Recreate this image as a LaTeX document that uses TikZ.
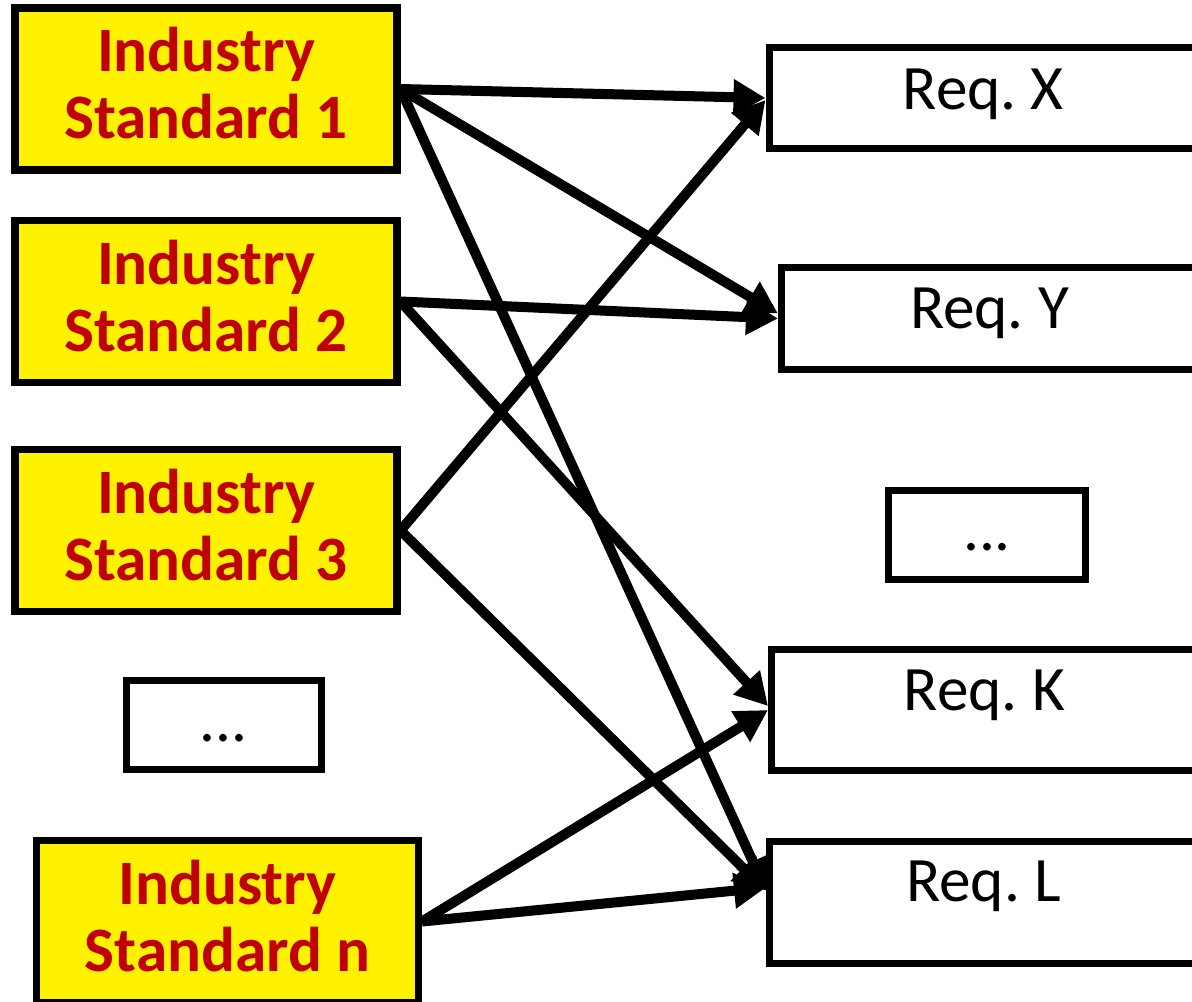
\documentclass[tikz,border=0pt]{standalone}
\usepackage{fontspec}
\setmainfont{Carlito}
\usetikzlibrary{arrows.meta}
\definecolor{stdred}{HTML}{C00000}
\newcommand{\reqname}[1]{Req.~#1}

\begin{document}
\begin{tikzpicture}[>={Triangle[length=0.32cm,width=0.34cm]},
		standard/.style={draw, line width=2pt, fill=yellow, text=stdred, align=center,
			font=\fontsize{18}{19}\selectfont\bfseries, minimum width=3.82cm, minimum height=1.62cm,
			inner sep=0pt, text depth=0.12cm},
		req/.style={draw, line width=2pt, fill=white, font=\fontsize{18}{20}\selectfont,
			anchor=north west, inner sep=0pt},
		link/.style={->, line width=2.85pt}]
		\useasboundingbox (0,0) rectangle (11.92,-10.02);

		% standards on the left
		\draw (2.06,-0.89) node[standard] (std1) {Industry\\Standard 1};
		\draw (2.06,-3.015) node[standard] (std2) {Industry\\Standard 2};
		\draw (2.06,-5.305) node[standard] (std3) {Industry\\Standard 3};
		\draw (1.225,-6.77) node[req, minimum width=1.955cm, text height=0.61cm, text depth=0.28cm] (stddots) {...};
		\draw (2.275,-9.215) node[standard] (stdn) {Industry\\Standard n};

		% requirements on the right
		\draw (7.655,-0.44) node[req, minimum width=4.285cm, text height=0.62cm, text depth=0.39cm] (reqx) {\reqname{X}};
		\draw (7.78,-2.64) node[req, minimum width=4.16cm, text height=0.61cm, text depth=0.41cm] (reqy) {\reqname{Y}};
		\draw (8.85,-4.87) node[req, minimum width=1.97cm, text height=0.60cm, text depth=0.29cm] (reqdots) {...};
		\draw (7.68,-6.46) node[req, minimum width=4.26cm, text height=0.61cm, text depth=0.60cm] (reqk) {\reqname{K}};
		\draw (7.66,-8.38) node[req, minimum width=4.28cm, text height=0.60cm, text depth=0.62cm] (reql) {\reqname{L}};

		\draw[link] (std1.east) -- (reqx.west);
		\draw[link] (std1.east) -- ([yshift=0.05cm]reqy.west);
		\draw[link] (std1.east) -- ([yshift=0.12cm]reql.west);
		\draw[link] (std2.east) -- (reqy.west);
		\draw[link] (std2.east) -- ([yshift=0.04cm]reqk.west);
		\draw[link] (std3.east) -- ([yshift=-0.02cm]reqx.west);
		\draw[link] (std3.east) -- ([yshift=0.12cm]reql.west);
		\draw[link] (stdn.east) -- (reqk.west);
		\draw[link] (stdn.east) -- ([yshift=0.15cm]reql.west);
	\end{tikzpicture}
\end{document}
